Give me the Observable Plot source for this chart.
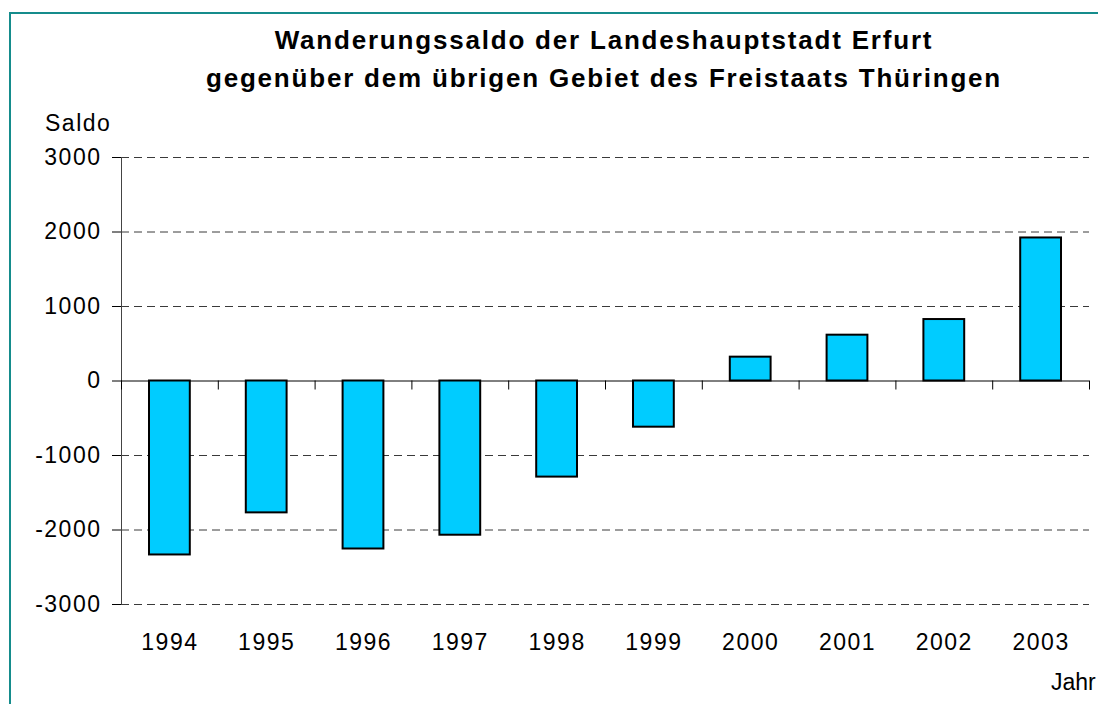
<!DOCTYPE html>
<html><head><meta charset="utf-8">
<script src="https://cdn.jsdelivr.net/npm/d3@7"></script>
<script src="https://cdn.jsdelivr.net/npm/@observablehq/plot@0.6"></script>
<style>
html,body{margin:0;padding:0;background:#fff;overflow:hidden;}
#wrap{position:relative;width:1098px;height:704px;overflow:hidden;font-family:"Liberation Sans",Arial,sans-serif;color:#000;}
#border{position:absolute;left:9px;top:12px;width:1200px;height:800px;border:2px solid #158c8c;box-sizing:border-box;}
#title{position:absolute;left:0;top:21px;width:1208px;text-align:center;font-weight:bold;font-size:26px;letter-spacing:1.8px;line-height:38px;}
.lab{position:absolute;font-size:23px;letter-spacing:1.5px;line-height:24px;white-space:nowrap;}
#chart{position:absolute;left:0;top:0;}
</style></head>
<body>
<div id="wrap">
  <div id="border"></div>
  <div id="chart"></div>
  <div id="title">Wanderungssaldo der Landeshauptstadt Erfurt<br>gegenüber dem übrigen Gebiet des Freistaats Thüringen</div>
  <div class="lab" id="ylab" style="left:45px;top:111px;">Saldo</div>
  <div class="lab" id="xlab" style="left:1051px;top:670px;letter-spacing:0;">Jahr</div>
</div>
<script>
const years = ["1994","1995","1996","1997","1998","1999","2000","2001","2002","2003"];
const saldo = [-2335,-1770,-2255,-2070,-1290,-620,320,615,825,1920];
const yTicks = [-3000,-2000,-1000,0,1000,2000,3000];
const gridTicks = yTicks.filter(d => d !== 0);

const data = years.map((year, i) => ({year, saldo: saldo[i]}));

const W = 1098, H = 704, mL = 121, mR = 9, mT = 157, mB = 100;
const bw = (W - mL - mR) / years.length;
const tickLen = 9 * (yTicks[yTicks.length-1] - yTicks[0]) / (H - mT - mB);

const chart = Plot.plot({
  width: W, height: H,
  marginLeft: mL, marginRight: mR, marginTop: mT, marginBottom: mB,
  style: {fontFamily: '"Liberation Sans", Arial, sans-serif', fontSize: "23px", letterSpacing: "1.5px", background: "transparent", color: "#000"},
  x: {domain: years, padding: 0, round: false},
  y: {domain: [yTicks[0], yTicks[yTicks.length-1]]},
  marks: [
    Plot.ruleY(gridTicks, {stroke: "#3a3a3a", strokeDasharray: "8,5", strokeWidth: 1}),
    Plot.ruleX([years[0]], {x: d => d, dx: -bw/2, y1: yTicks[0], y2: yTicks[yTicks.length-1], stroke: "#444"}),
    Plot.ruleY([0], {stroke: "#000"}),
    Plot.ruleX(years, {x: d => d, y1: 0, y2: -tickLen, dx: -bw/2, stroke: "#000"}),
    Plot.ruleX([years[years.length-1]], {x: d => d, y1: 0, y2: -tickLen, dx: bw/2, stroke: "#000"}),
    Plot.barY(data, {x: "year", y: "saldo", fill: "#00CCFF", stroke: "#000", strokeWidth: 2, insetLeft: 28, insetRight: 28}),
    Plot.axisY({ticks: yTicks, tickSize: 9, tickPadding: 11, tickFormat: d => String(d), label: null, fontSize: 23}),
    Plot.axisX({tickSize: 0, tickPadding: 29, label: null, fontSize: 23})
  ]
});
document.getElementById("chart").appendChild(chart);
</script>
</body></html>
